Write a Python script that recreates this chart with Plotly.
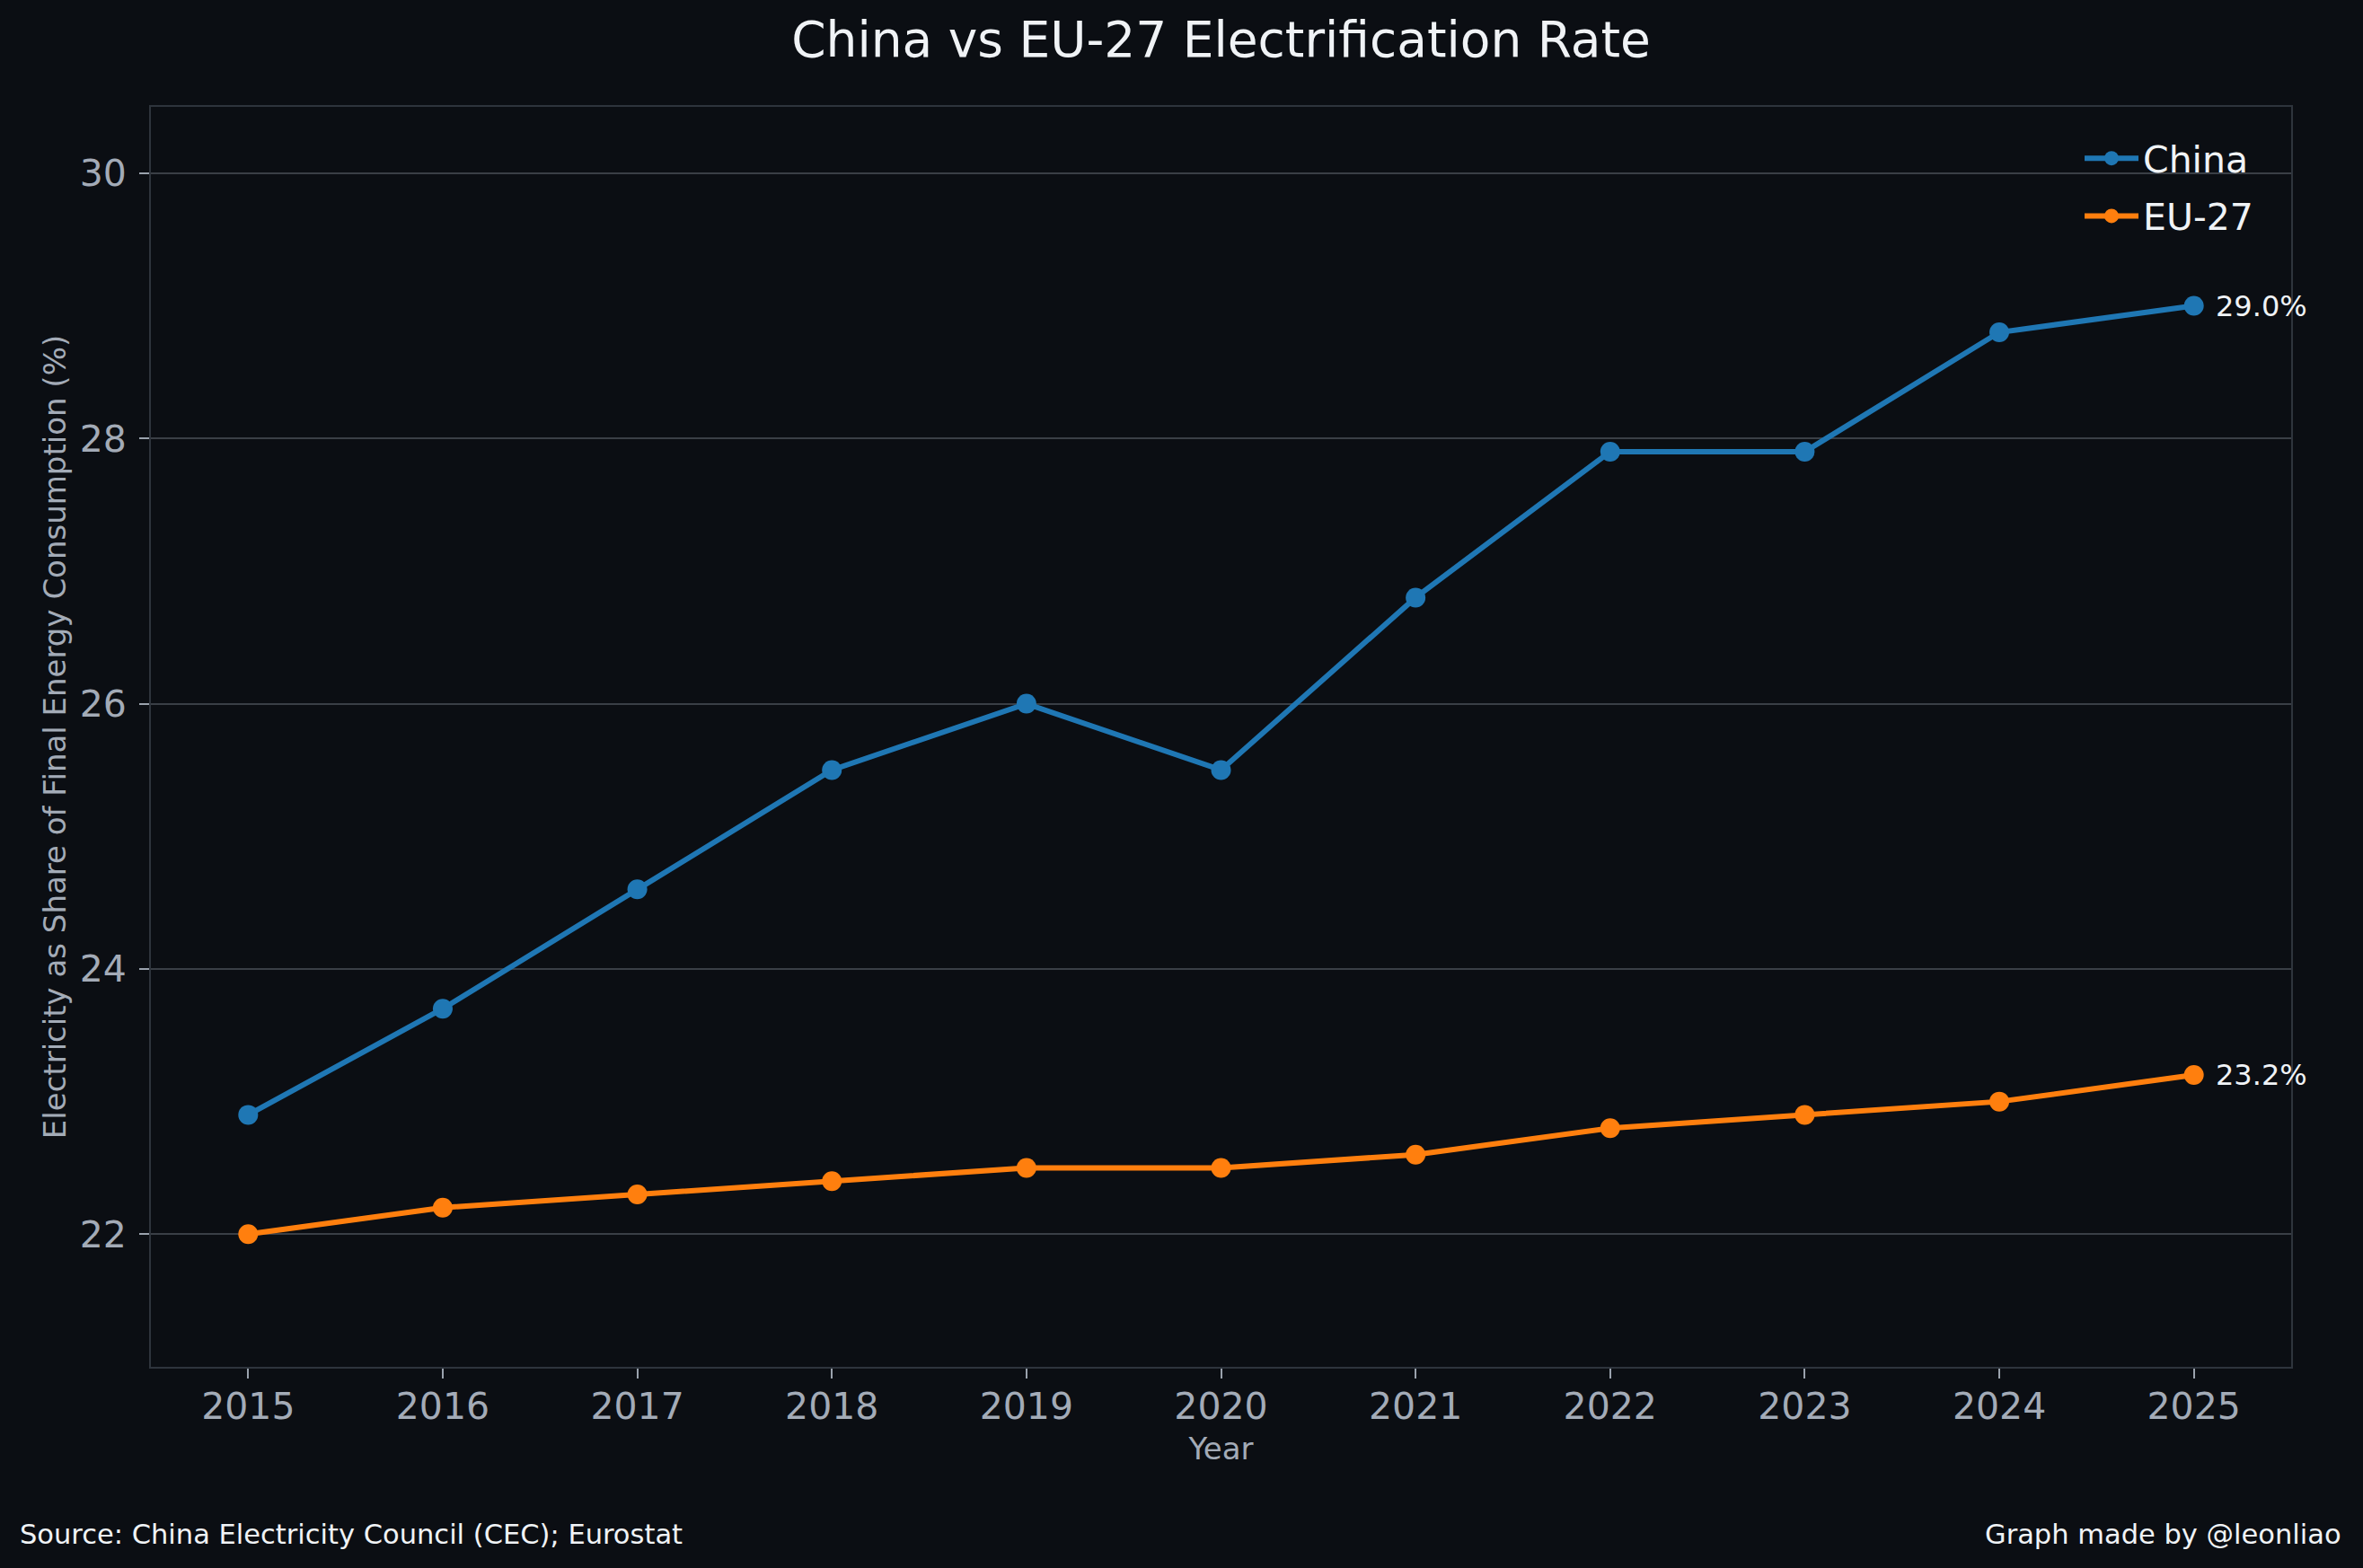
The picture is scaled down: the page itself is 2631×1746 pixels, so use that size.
import plotly.graph_objects as go

years = [2015, 2016, 2017, 2018, 2019, 2020, 2021, 2022, 2023, 2024, 2025]
china = [22.9, 23.7, 24.6, 25.5, 26.0, 25.5, 26.8, 27.9, 27.9, 28.8, 29.0]
eu27 = [22.0, 22.2, 22.3, 22.4, 22.5, 22.5, 22.6, 22.8, 22.9, 23.0, 23.2]
y_ticks = [22, 24, 26, 28, 30]

BG = "#0b0e13"
GRID = "#3a3f46"
SPINE = "#2e343c"
TICKTXT = "#a3abb7"
WHITE = "#f0f3f6"
BLUE = "#1f77b4"
ORANGE = "#ff7f0e"
FONT = "DejaVu Sans"

W, H = 2631, 1746
L, R, T, B = 168, 80, 119, 224
pw = W - L - R
ph = H - T - B

fig = go.Figure()
fig.add_trace(go.Scatter(x=years, y=china, mode="lines+markers", name="China",
                         legendgroup="a",
                         line=dict(color=BLUE, width=6),
                         marker=dict(color=BLUE, size=22)))
fig.add_trace(go.Scatter(x=years, y=eu27, mode="lines+markers", name="EU-27",
                         legendgroup="b",
                         line=dict(color=ORANGE, width=6),
                         marker=dict(color=ORANGE, size=22)))

for series in (china, eu27):
    fig.add_annotation(x=years[-1], y=series[-1], text=f"{series[-1]:.1f}%",
                       showarrow=False, xanchor="left", yanchor="middle",
                       xshift=22, font=dict(family=FONT, size=32, color=WHITE))

def px_x(p):
    return (p - L) / pw

def px_y(p):
    return (H - B - p) / ph

fig.add_annotation(xref="paper", yref="paper", x=px_x(20), y=px_y(1708),
                   text="Source: China Electricity Council (CEC); Eurostat",
                   showarrow=False, xanchor="left", yanchor="middle",
                   font=dict(family=FONT, size=30.5, color=WHITE))
fig.add_annotation(xref="paper", yref="paper", x=px_x(2609), y=px_y(1708),
                   text="Graph made by @leonliao",
                   showarrow=False, xanchor="right", yanchor="middle",
                   font=dict(family=FONT, size=30.5, color=WHITE))

fig.update_layout(
    width=W, height=H,
    margin=dict(l=L, r=R, t=T, b=B),
    paper_bgcolor=BG, plot_bgcolor=BG,
    font=dict(family=FONT, color=TICKTXT),
    title=dict(text="China vs EU-27 Electrification Rate",
               x=0.5, xref="paper", xanchor="center",
               y=1 - 44 / H, yref="container", yanchor="middle",
               font=dict(family=FONT, size=55, color=WHITE)),
    showlegend=True,
    legend=dict(x=px_x(2316), y=px_y(143), xanchor="left", yanchor="top",
                bgcolor="rgba(0,0,0,0)", borderwidth=0,
                font=dict(family=FONT, size=41, color=WHITE),
                tracegroupgap=8, itemwidth=60),
    xaxis=dict(range=[2014.5, 2025.5], tickmode="array", tickvals=years,
               ticktext=[str(y) for y in years],
               showgrid=False, zeroline=False,
               showline=True, linecolor=SPINE, linewidth=2, mirror=True,
               ticks="outside", ticklen=11, tickwidth=2, tickcolor="#9aa2ad",
               ticklabelstandoff=-4,
               tickfont=dict(family=FONT, size=41, color=TICKTXT),
               title=dict(text="Year", standoff=12,
                          font=dict(family=FONT, size=34, color=TICKTXT))),
    yaxis=dict(range=[21, 30.5], tickmode="array", tickvals=y_ticks,
               ticktext=[str(v) for v in y_ticks],
               showgrid=True, gridcolor=GRID, gridwidth=2, zeroline=False,
               showline=True, linecolor=SPINE, linewidth=2, mirror=True,
               ticks="outside", ticklen=11, tickwidth=2, tickcolor="#9aa2ad",
               ticklabelstandoff=6,
               tickfont=dict(family=FONT, size=41, color=TICKTXT),
               title=dict(text="Electricity as Share of Final Energy Consumption (%)",
                          standoff=5,
                          font=dict(family=FONT, size=34, color=TICKTXT))),
)

fig.write_html(
    "out.html",
    config={"displayModeBar": False},
    post_script="document.body.style.margin='0';document.body.style.background='#0b0e13';document.body.style.overflow='hidden';",
)
